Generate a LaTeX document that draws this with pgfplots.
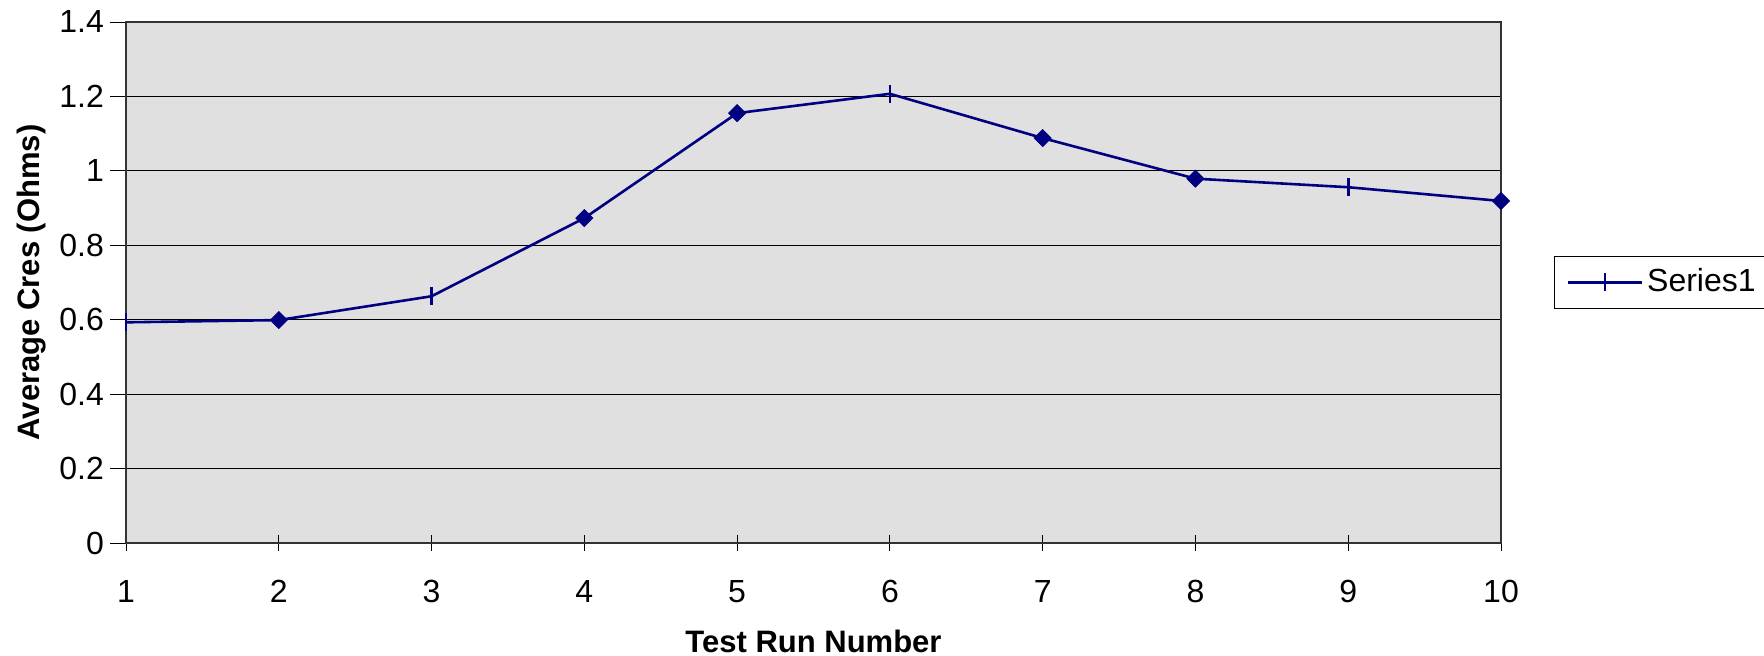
\documentclass[border=0pt]{standalone}
\usepackage{pgfplots}
\pgfplotsset{compat=1.18}
\usepackage{fontspec}
\setmainfont{Liberation Sans}
\definecolor{navy}{RGB}{0,0,128}
\definecolor{bg}{RGB}{224,224,224}
\begin{document}
\fontsize{16pt}{19pt}\selectfont
\begin{tikzpicture}
\path[use as bounding box] (-63pt,-56.5pt) rectangle (819pt,271.5pt);
\begin{axis}[
  at={(0,0)}, anchor=south west,
  scale only axis, width=687.5pt, height=260.5pt,
  xmin=1, xmax=10, ymin=0, ymax=1.4,
  xtick={1,...,10},
  ytick={0,0.2,...,1.4},
  yticklabels={0,0.2,0.4,0.6,0.8,1,1.2,1.4},
  axis background/.style={fill=bg},
  axis line style={draw=black!80, line width=0.7pt},
  ymajorgrids, grid style={black, line width=0.5pt},
  major tick length=8pt,
  xtick pos=bottom, ytick pos=left,
  x tick style={black, line width=0.4pt, yshift=4pt},
  y tick style={black, line width=0.4pt},
  tick align=outside,
  /pgf/number format/assume math mode=true,
  tick label style={font=\fontsize{16pt}{19pt}\selectfont},
  xticklabel style={yshift=-5pt},
  yticklabel style={xshift=2.5pt},
  xlabel={\bfseries Test Run Number},
  ylabel={\bfseries Average Cres (Ohms)},
  label style={font=\fontsize{15.5pt}{18pt}\selectfont},
  xlabel style={at={(axis description cs:0.5,-0.188)}, anchor=center},
  ylabel style={at={(axis description cs:-0.069,0.5)}, anchor=center},
  legend style={at={(1.0386,0.5)}, anchor=west, draw=black, line width=0.5pt,
    font=\fontsize{16pt}{19pt}\selectfont, inner xsep=6pt, inner ysep=4pt},
  legend cell align=left,
  legend image code/.code={
    \draw[#1] (0pt,0pt) -- (37pt,0pt);
    \draw[navy, line width=1.3pt] (18.5pt,-4.5pt) -- (18.5pt,4.5pt);
  },
  clip=false,
]
\addplot[navy, line width=1.3pt, forget plot] coordinates {
(1,0.593) (2,0.599) (3,0.663) (4,0.873) (5,1.155) (6,1.207) (7,1.088) (8,0.979) (9,0.956) (10,0.919)
};
\addplot[navy, only marks, mark=|, mark size=4.5pt, mark options={line width=1.3pt}, forget plot] coordinates {
(1,0.593) (3,0.663) (6,1.207) (9,0.956)
};
\addplot[navy, only marks, mark=square*, mark size=3pt, mark options={rotate=45, fill=navy, draw=navy}, forget plot] coordinates {
(2,0.599) (4,0.873) (5,1.155) (7,1.088) (8,0.979) (10,0.919)
};
\addlegendimage{navy, line width=1.3pt}
\addlegendentry{Series1}
\end{axis}
\begin{axis}[
  at={(0,0)}, anchor=south west,
  scale only axis, width=687.5pt, height=260.5pt,
  xmin=1, xmax=10, ymin=0, ymax=1.4,
  hide axis, clip=false,
]
\addplot[navy, only marks, mark=|, mark size=4.5pt, mark options={line width=1.3pt}] coordinates {
(1,0.593)
};
\end{axis}
\end{tikzpicture}
\end{document}
